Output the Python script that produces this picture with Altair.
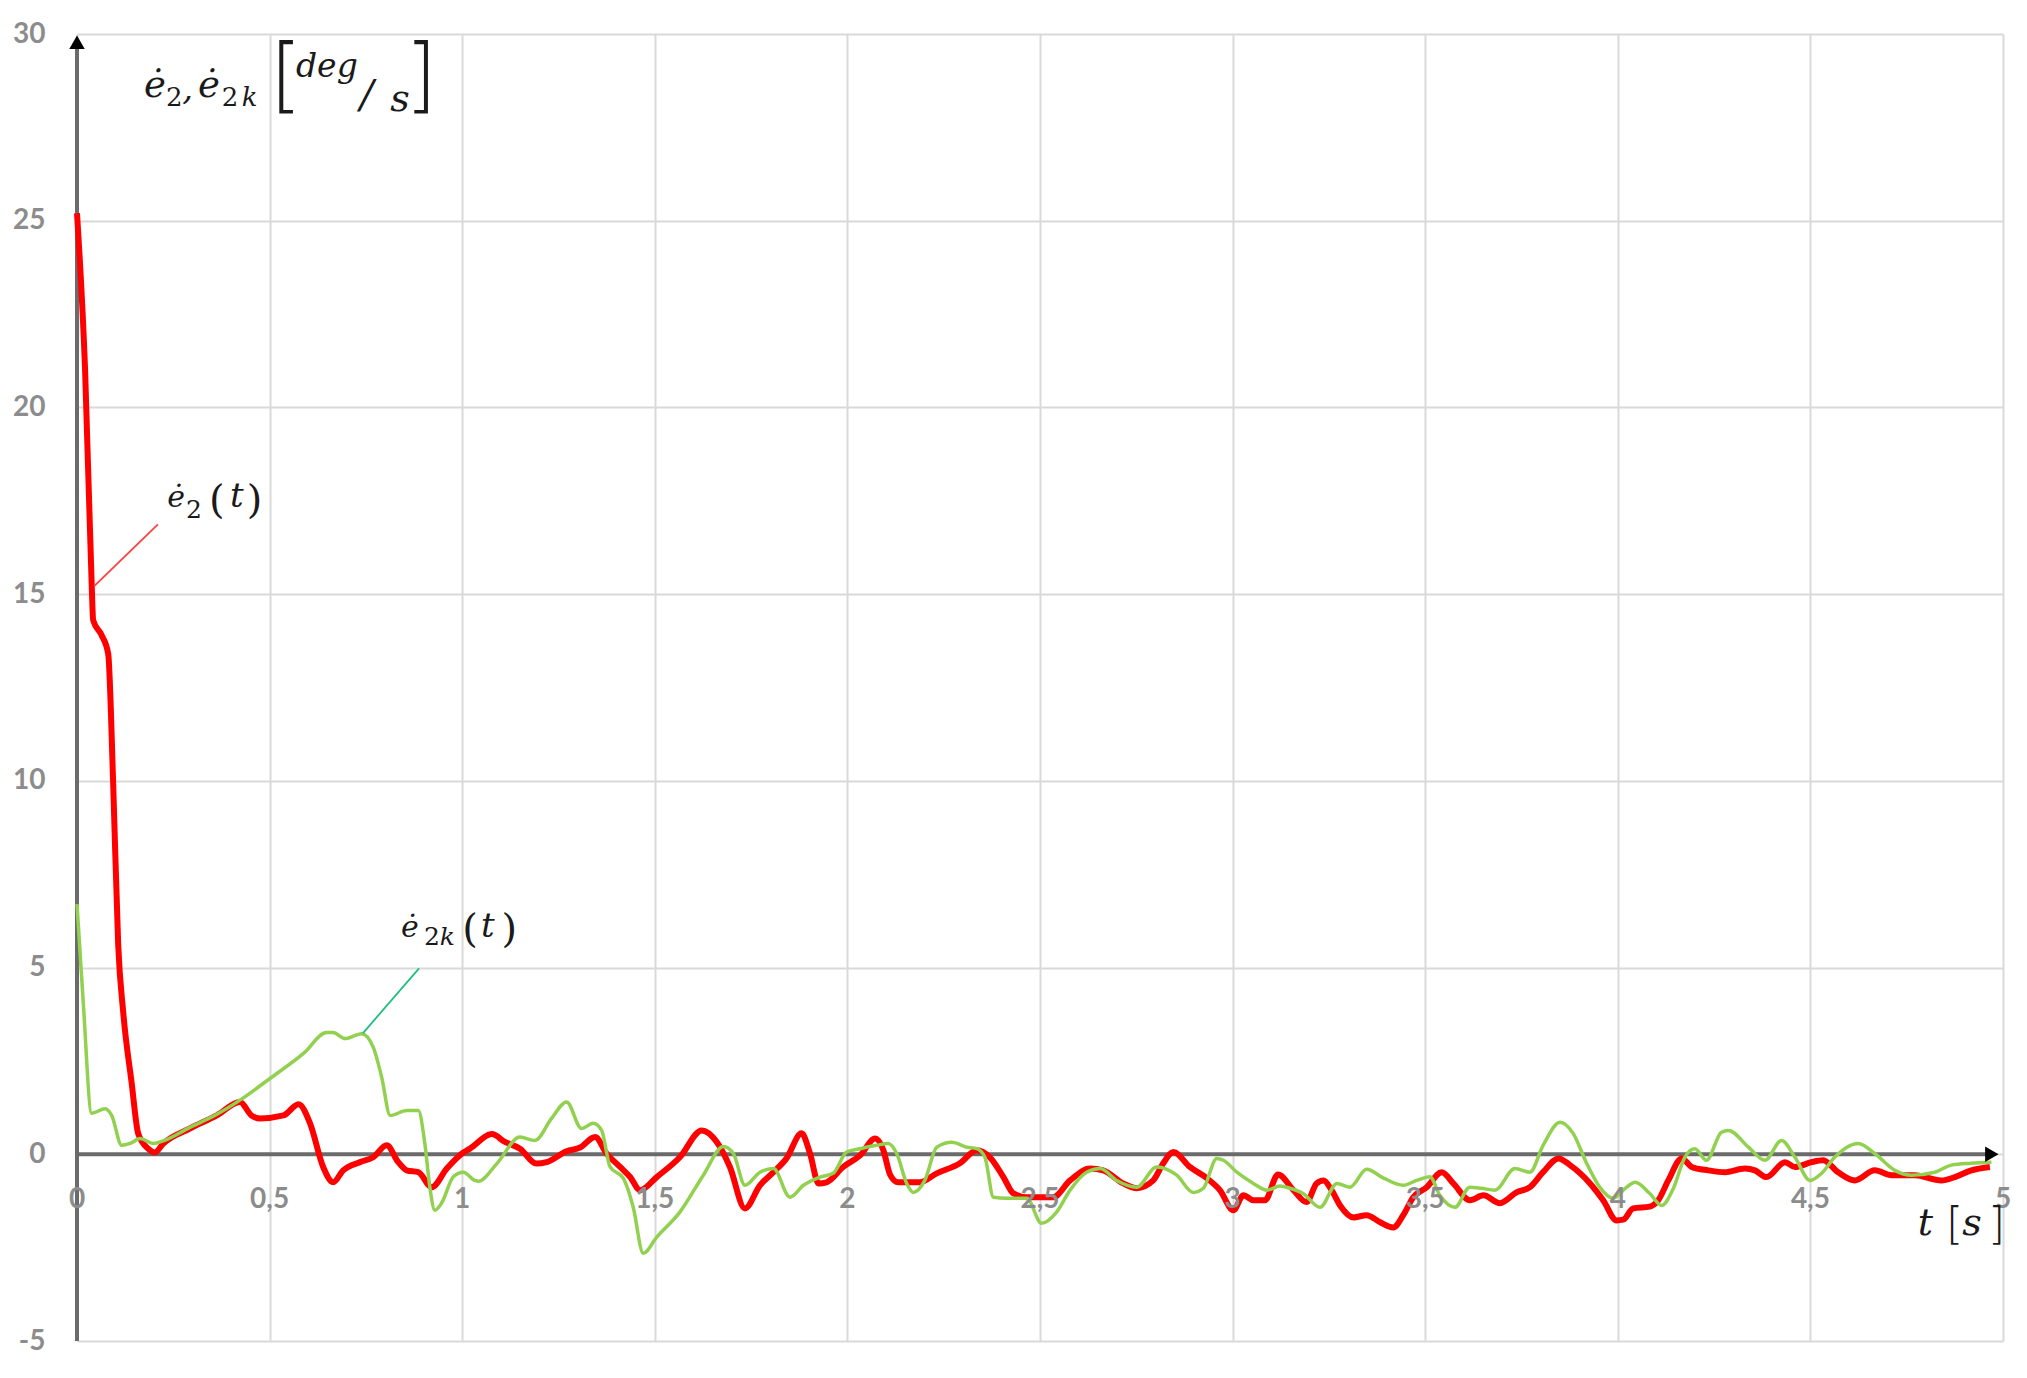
import pandas as pd
import altair as alt

# e2 dot (red)
t_red = [0.000, 0.021, 0.038, 0.042, 0.064, 0.081, 0.094, 0.107, 0.120, 0.142,
         0.159, 0.185, 0.202, 0.224, 0.293, 0.363, 0.423, 0.453, 0.475, 0.536,
         0.575, 0.605, 0.639, 0.665, 0.691, 0.735, 0.769, 0.804, 0.834, 0.856,
         0.886, 0.921, 0.960, 1.003, 1.020, 1.077, 1.111, 1.150, 1.193, 1.219,
         1.271, 1.306, 1.345, 1.375, 1.410, 1.436, 1.462, 1.505, 1.565, 1.622,
         1.661, 1.695, 1.734, 1.773, 1.808, 1.842, 1.881, 1.903, 1.925, 1.946,
         1.989, 2.033, 2.072, 2.093, 2.111, 2.132, 2.188, 2.232, 2.292, 2.336,
         2.370, 2.405, 2.431, 2.466, 2.534, 2.578, 2.630, 2.664, 2.716, 2.751,
         2.794, 2.820, 2.846, 2.889, 2.933, 2.967, 3.002, 3.028, 3.054, 3.084,
         3.118, 3.158, 3.192, 3.218, 3.236, 3.257, 3.279, 3.314, 3.348, 3.383,
         3.417, 3.443, 3.469, 3.504, 3.543, 3.573, 3.616, 3.651, 3.694, 3.737,
         3.772, 3.806, 3.846, 3.876, 3.928, 3.962, 3.997, 4.014, 4.040, 4.083,
         4.105, 4.131, 4.166, 4.192, 4.235, 4.278, 4.330, 4.356, 4.386, 4.434,
         4.460, 4.503, 4.533, 4.572, 4.615, 4.667, 4.711, 4.771, 4.840, 4.875,
         4.918, 4.966]
v_red = [25.2, 21.0, 15.3, 14.3, 13.9, 13.4, 9.9, 5.6, 3.8, 1.9,
         0.55, 0.15, 0.05, 0.29, 0.69, 1.04, 1.40, 1.04, 0.96, 1.04,
         1.34, 0.83, -0.34, -0.75, -0.43, -0.21, -0.08, 0.24, -0.21, -0.43,
         -0.48, -0.88, -0.38, 0.05, 0.15, 0.54, 0.33, 0.15, -0.25, -0.21,
         0.08, 0.18, 0.46, 0.02, -0.34, -0.61, -0.96, -0.61, -0.08, 0.64,
         0.33, -0.34, -1.45, -0.83, -0.48, -0.11, 0.56, 0.02, -0.78, -0.75,
         -0.34, -0.03, 0.42, 0.12, -0.55, -0.75, -0.75, -0.51, -0.24, 0.11,
         -0.08, -0.61, -1.05, -1.15, -1.15, -0.70, -0.38, -0.43, -0.78, -0.91,
         -0.70, -0.24, 0.06, -0.34, -0.64, -0.96, -1.50, -1.10, -1.23, -1.23,
         -0.54, -0.96, -1.28, -0.78, -0.70, -0.96, -1.37, -1.69, -1.63, -1.82,
         -1.96, -1.63, -1.15, -0.88, -0.48, -0.78, -1.23, -1.10, -1.31, -1.02,
         -0.88, -0.48, -0.11, -0.29, -0.78, -1.23, -1.77, -1.75, -1.45, -1.40,
         -1.23, -0.70, -0.11, -0.34, -0.43, -0.48, -0.38, -0.43, -0.61, -0.21,
         -0.34, -0.21, -0.16, -0.48, -0.70, -0.43, -0.56, -0.56, -0.70, -0.61,
         -0.43, -0.34]

# e2k dot (green)
t_green = [0.000, 0.016, 0.038, 0.073, 0.090, 0.116, 0.138, 0.164, 0.198, 0.224,
           0.293, 0.363, 0.423, 0.501, 0.588, 0.648, 0.665, 0.696, 0.739, 0.769,
           0.791, 0.813, 0.856, 0.886, 0.903, 0.916, 0.929, 0.947, 0.977, 1.003,
           1.033, 1.042, 1.090, 1.150, 1.189, 1.232, 1.271, 1.310, 1.340, 1.362,
           1.384, 1.418, 1.444, 1.470, 1.505, 1.565, 1.626, 1.678, 1.704, 1.734,
           1.773, 1.808, 1.851, 1.886, 1.929, 1.963, 1.998, 2.033, 2.076, 2.106,
           2.128, 2.154, 2.171, 2.201, 2.232, 2.271, 2.310, 2.336, 2.357, 2.379,
           2.414, 2.466, 2.504, 2.543, 2.578, 2.621, 2.656, 2.699, 2.751, 2.803,
           2.855, 2.898, 2.924, 2.959, 2.976, 3.011, 3.054, 3.089, 3.123, 3.149,
           3.183, 3.227, 3.271, 3.305, 3.348, 3.392, 3.443, 3.478, 3.512, 3.538,
           3.577, 3.616, 3.646, 3.681, 3.733, 3.772, 3.806, 3.850, 3.884, 3.919,
           3.953, 3.988, 4.023, 4.045, 4.083, 4.114, 4.144, 4.174, 4.200, 4.230,
           4.269, 4.287, 4.339, 4.382, 4.425, 4.460, 4.499, 4.529, 4.563, 4.624,
           4.667, 4.719, 4.762, 4.823, 4.866, 4.918, 4.970]
v_green = [6.7, 4.1, 1.10, 1.22, 1.04, 0.24, 0.29, 0.42, 0.29, 0.36,
           0.72, 1.07, 1.45, 2.03, 2.70, 3.26, 3.26, 3.10, 3.23, 2.87,
           2.06, 1.04, 1.17, 1.17, 0.29, -0.88, -1.50, -1.30, -0.60, -0.48,
           -0.70, -0.72, -0.25, 0.46, 0.37, 0.96, 1.40, 0.69, 0.83, 0.64,
           -0.34, -0.64, -1.42, -2.65, -2.22, -1.55, -0.56, 0.21, 0.02, -0.83,
           -0.48, -0.38, -1.15, -0.83, -0.61, -0.51, 0.06, 0.15, 0.24, 0.29,
           0.02, -0.78, -1.02, -0.70, 0.19, 0.32, 0.19, 0.15, -0.08, -1.15,
           -1.18, -1.18, -1.85, -1.55, -0.96, -0.48, -0.38, -0.70, -0.88, -0.34,
           -0.56, -1.02, -0.91, -0.11, -0.16, -0.48, -0.78, -0.96, -0.85, -0.91,
           -1.05, -1.42, -0.78, -0.88, -0.40, -0.64, -0.83, -0.70, -0.60, -1.10,
           -1.42, -0.88, -0.91, -0.96, -0.38, -0.48, 0.24, 0.86, 0.56, -0.24,
           -0.88, -1.18, -0.88, -0.75, -1.05, -1.37, -0.92, -0.08, 0.15, -0.16,
           0.59, 0.64, 0.19, -0.16, 0.37, -0.08, -0.70, -0.51, -0.08, 0.29,
           0.02, -0.43, -0.56, -0.48, -0.29, -0.24, -0.21]

x_ticks = [0, 0.5, 1, 1.5, 2, 2.5, 3, 3.5, 4, 4.5, 5]
x_tick_labels = ["0", "0,5", "1", "1,5", "2", "2,5", "3", "3,5", "4", "4,5", "5"]
y_ticks = [-5, 0, 5, 10, 15, 20, 25, 30]

# axis lines (x axis at zero, y axis at t=0) and leader lines
axis_lines = pd.DataFrame({"t": [0, 0], "t2": [4.97, 0], "v": [0, -5], "v2": [0, 29.6]})
leaders = pd.DataFrame({
    "t": [0.210, 0.888], "t2": [0.044, 0.742],
    "v": [16.87, 4.98], "v2": [15.21, 3.24],
    "who": ["red", "green"],
})
arrows = pd.DataFrame({"t": [0, 4.971], "v": [29.78, 0],
                       "shape": ["triangle-up", "triangle-right"]})

# text pieces for the math labels: text, t, v, font size
italic_pieces = [
    ("e\u0307", 0.174, 28.31, 37), (",", 0.273, 28.23, 34), ("e\u0307", 0.314, 28.31, 37),
    ("k", 0.428, 28.07, 26), ("deg", 0.5685, 28.84, 33), ("/", 0.735, 28.01, 40),
    ("s", 0.813, 27.93, 38),
    ("e\u0307", 0.234, 17.33, 30), ("t", 0.397, 17.33, 34),
    ("e\u0307", 0.841, 5.81, 30), ("k", 0.942, 5.60, 25), ("t", 1.049, 5.81, 34),
    ("t", 4.779, -2.17, 38), ("s", 4.894, -2.17, 38),
]
upright_pieces = [
    ("2", 0.231, 28.07, 26), ("2", 0.376, 28.07, 26),
    ("2", 0.283, 17.03, 25), ("(", 0.343, 17.17, 40), (")", 0.441, 17.17, 40),
    ("2", 0.901, 5.60, 25), ("(", 1.000, 5.68, 40), (")", 1.102, 5.68, 40),
]
bracket_pieces = [
    ("[", 0.501, 28.17, 82), ("]", 0.8515, 28.17, 82),
    ("[", 4.852, -2.28, 44), ("]", 4.961, -2.28, 44),
]

cols = ["text", "t", "v", "size"]
red = pd.DataFrame({"t": t_red, "v": v_red})
green = pd.DataFrame({"t": t_green, "v": v_green})
xlab = pd.DataFrame({"t": x_ticks, "label": x_tick_labels, "v": [0] * len(x_ticks)})

x_scale = alt.Scale(domain=[0, 5], nice=False, zero=False)
y_scale = alt.Scale(domain=[-5, 30], nice=False, zero=False)

# first layer carries the grid and the y labels
axes = alt.Chart(axis_lines).mark_rule(color="#6b6b6b", strokeWidth=4).encode(
    x=alt.X("t:Q", scale=x_scale,
            axis=alt.Axis(values=x_ticks, grid=True, labels=False, ticks=False,
                          domain=False, title=None, gridColor="#d9d9d9", gridWidth=2)),
    x2="t2:Q",
    y=alt.Y("v:Q", scale=y_scale,
            axis=alt.Axis(values=y_ticks, grid=True, ticks=False, domain=False, title=None,
                          gridColor="#d9d9d9", gridWidth=2, labelFont="Lato",
                          labelFontSize=28, labelFontWeight="bold", labelColor="#8c8c8c",
                          labelPadding=32,
                          labelExpr="datum.value < 0 ? '-' + abs(datum.value) : '' + datum.value")),
    y2="v2:Q",
)

x_labels = alt.Chart(xlab).mark_text(font="Lato", fontSize=28, fontWeight="bold",
                                     color="#8c8c8c", baseline="middle", dy=46).encode(
    x=alt.X("t:Q", scale=x_scale), y=alt.Y("v:Q", scale=y_scale), text="label:N")

red_line = alt.Chart(red).mark_line(color="#ff0000", strokeWidth=6,
                                    interpolate="monotone").encode(
    x=alt.X("t:Q", scale=x_scale), y=alt.Y("v:Q", scale=y_scale))

green_line = alt.Chart(green).mark_line(color="#92d050", strokeWidth=3.5,
                                        interpolate="monotone").encode(
    x=alt.X("t:Q", scale=x_scale), y=alt.Y("v:Q", scale=y_scale))

leader_lines = alt.Chart(leaders).mark_rule(strokeWidth=1.8).encode(
    x=alt.X("t:Q", scale=x_scale), x2="t2:Q",
    y=alt.Y("v:Q", scale=y_scale), y2="v2:Q",
    color=alt.Color("who:N", scale=alt.Scale(domain=["red", "green"],
                                             range=["#ff4040", "#1fbf80"]), legend=None),
)

arrow_heads = alt.Chart(arrows).mark_point(filled=True, color="black", opacity=1,
                                           size=240, strokeWidth=0).encode(
    x=alt.X("t:Q", scale=x_scale), y=alt.Y("v:Q", scale=y_scale),
    shape=alt.Shape("shape:N", scale=None))


def pieces(rows, font, style, weight="normal"):
    df = pd.DataFrame(rows, columns=cols)
    return alt.Chart(df).mark_text(font=font, fontStyle=style, fontWeight=weight,
                                   align="left", baseline="alphabetic",
                                   color="#1a1a1a").encode(
        x=alt.X("t:Q", scale=x_scale), y=alt.Y("v:Q", scale=y_scale),
        text="text:N", size=alt.Size("size:Q", scale=None))


chart = alt.layer(
    axes, red_line, green_line, leader_lines, arrow_heads, x_labels,
    pieces(italic_pieces, "DejaVu Serif", "italic"),
    pieces(upright_pieces, "DejaVu Serif", "normal"),
    pieces(bracket_pieces, "DejaVu Sans", "normal", 200),
).properties(
    width=1926, height=1307,
    autosize=alt.AutoSizeParams(type="none"),
    padding={"left": 69, "top": 26, "right": 12, "bottom": 20},
    background="white",
).configure_view(stroke=None)

chart.save("out.html", embed_options={"renderer": "svg", "actions": False})
